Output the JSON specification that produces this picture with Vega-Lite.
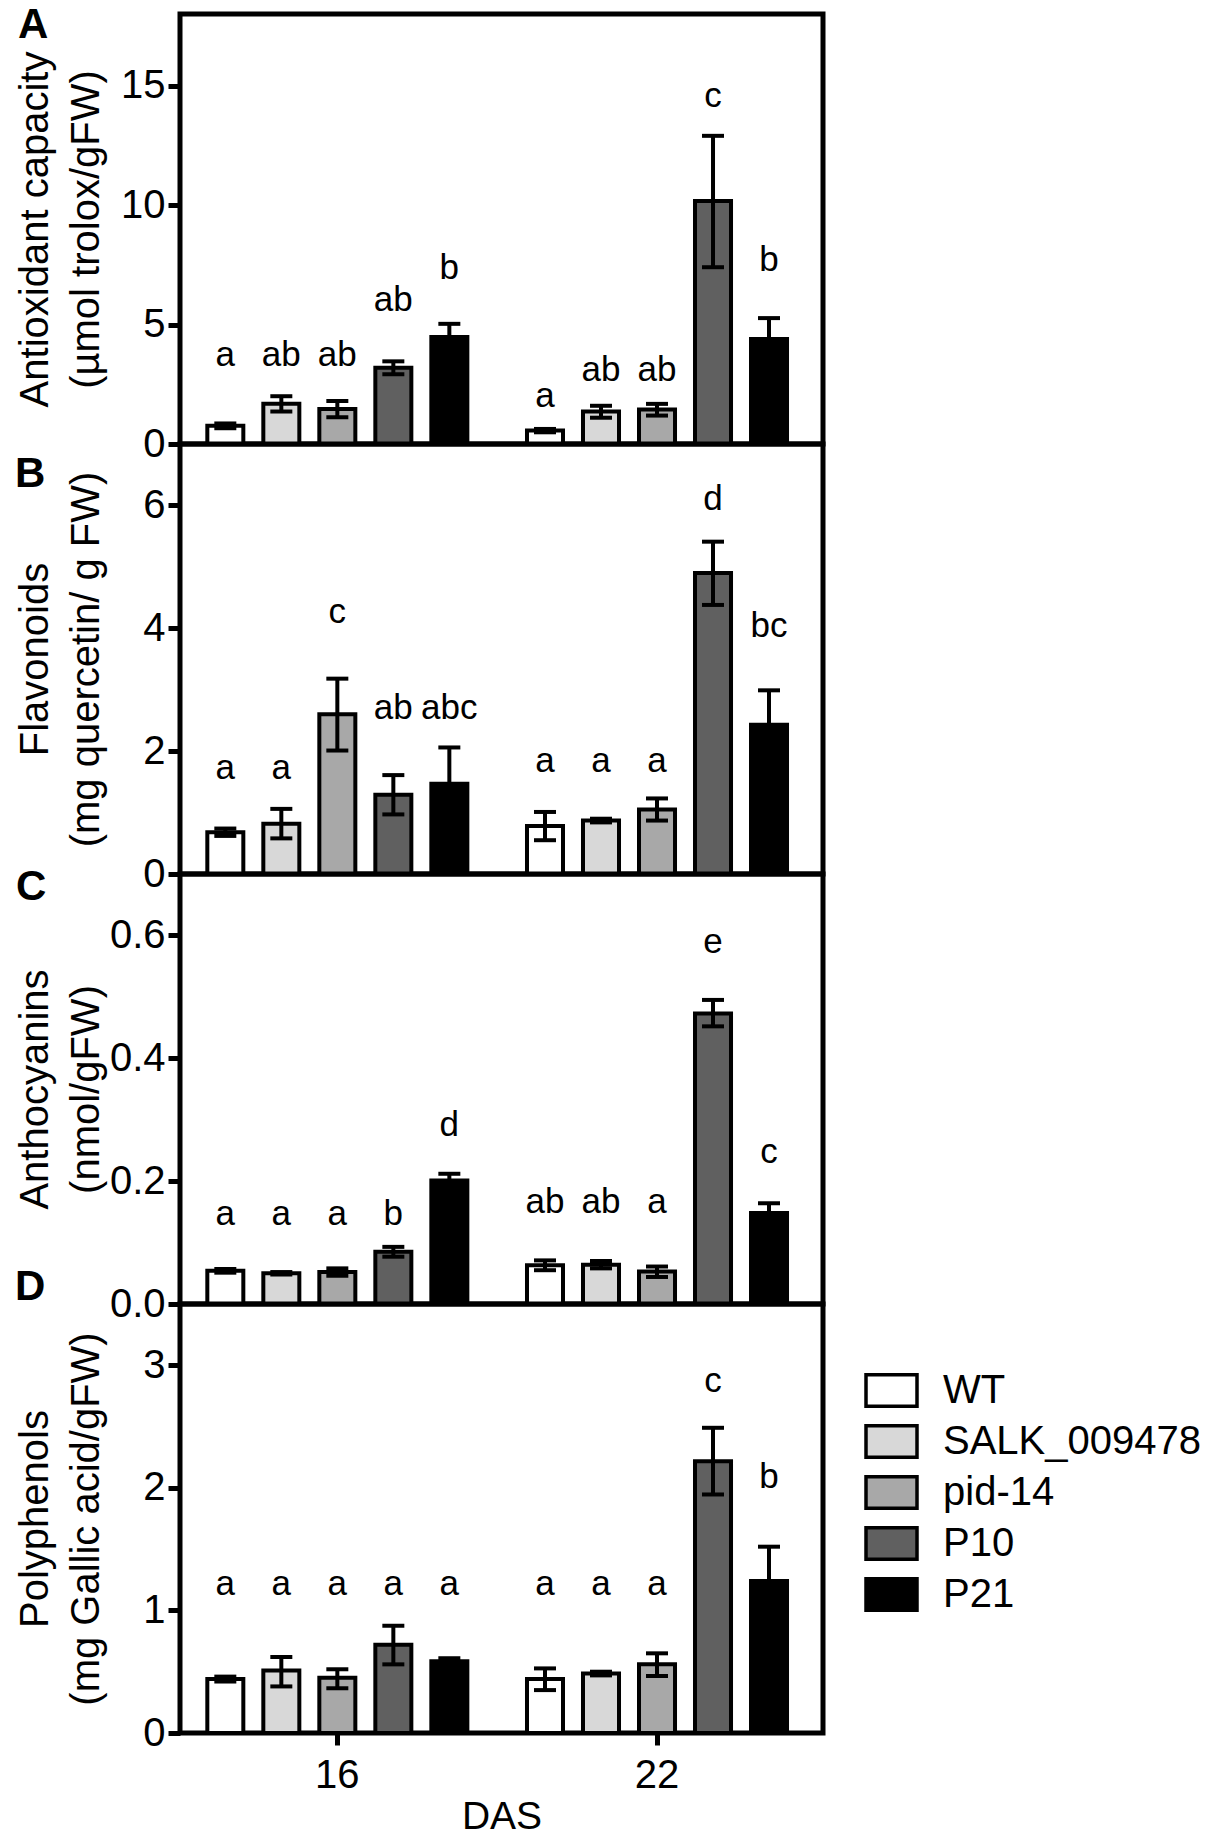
{
  "$schema": "https://vega.github.io/schema/vega-lite/v6.json",
  "background": "white",
  "padding": {"left": 12, "top": 1, "right": 5, "bottom": 5},
  "config": {
    "font": "Liberation Sans",
    "view": {"stroke": "black", "strokeWidth": 5},
    "axis": {
      "labelFont": "Liberation Sans", "titleFont": "Liberation Sans",
      "labelColor": "black", "titleColor": "black", "tickColor": "black",
      "grid": false, "domain": false, "titleFontWeight": "normal",
      "tickSize": 12, "tickWidth": 5, "labelFontSize": 40, "titleFontSize": 40
    },
    "axisY": {
      "labelPadding": 3, "labelBaseline": "middle", "labelFlush": false, "labelOverlap": false,
      "titleAngle": -90, "titleAlign": "center", "titleBaseline": "alphabetic",
      "titleLineHeight": 51, "titleX": -133
    },
    "title": {"font": "Liberation Sans", "fontSize": 42, "fontWeight": "bold", "color": "black",
              "anchor": "start", "frame": "group", "baseline": "alphabetic", "offset": 0, "dx": -162},
    "text": {"font": "Liberation Sans", "fontSize": 35, "color": "black", "baseline": "alphabetic", "align": "center"}
  },
  "datasets": {
    "d": [
      {"p": "A", "das": "16", "g": "WT", "v": 0.76, "lo": 0.66, "hi": 0.86, "lab": "a", "ly": 3.25},
      {"p": "A", "das": "16", "g": "SALK_009478", "v": 1.68, "lo": 1.36, "hi": 2.0, "lab": "ab", "ly": 3.25},
      {"p": "A", "das": "16", "g": "pid-14", "v": 1.47, "lo": 1.12, "hi": 1.8, "lab": "ab", "ly": 3.25},
      {"p": "A", "das": "16", "g": "P10", "v": 3.19, "lo": 2.92, "hi": 3.46, "lab": "ab", "ly": 5.55},
      {"p": "A", "das": "16", "g": "P21", "v": 4.48, "lo": 3.93, "hi": 5.03, "lab": "b", "ly": 6.92},
      {"p": "A", "das": "22", "g": "WT", "v": 0.56, "lo": 0.49, "hi": 0.63, "lab": "a", "ly": 1.54},
      {"p": "A", "das": "22", "g": "SALK_009478", "v": 1.36, "lo": 1.1, "hi": 1.6, "lab": "ab", "ly": 2.62},
      {"p": "A", "das": "22", "g": "pid-14", "v": 1.44, "lo": 1.19, "hi": 1.68, "lab": "ab", "ly": 2.62},
      {"p": "A", "das": "22", "g": "P10", "v": 10.17, "lo": 7.4, "hi": 12.9, "lab": "c", "ly": 14.11},
      {"p": "A", "das": "22", "g": "P21", "v": 4.4, "lo": 3.53, "hi": 5.27, "lab": "b", "ly": 7.23},

      {"p": "B", "das": "16", "g": "WT", "v": 0.68, "lo": 0.62, "hi": 0.74, "lab": "a", "ly": 1.55},
      {"p": "B", "das": "16", "g": "SALK_009478", "v": 0.82, "lo": 0.58, "hi": 1.06, "lab": "a", "ly": 1.55},
      {"p": "B", "das": "16", "g": "pid-14", "v": 2.6, "lo": 2.01, "hi": 3.18, "lab": "c", "ly": 4.09},
      {"p": "B", "das": "16", "g": "P10", "v": 1.29, "lo": 0.97, "hi": 1.61, "lab": "ab", "ly": 2.52},
      {"p": "B", "das": "16", "g": "P21", "v": 1.47, "lo": 0.89, "hi": 2.06, "lab": "abc", "ly": 2.52},
      {"p": "B", "das": "22", "g": "WT", "v": 0.78, "lo": 0.55, "hi": 1.01, "lab": "a", "ly": 1.66},
      {"p": "B", "das": "22", "g": "SALK_009478", "v": 0.87, "lo": 0.84, "hi": 0.9, "lab": "a", "ly": 1.66},
      {"p": "B", "das": "22", "g": "pid-14", "v": 1.05, "lo": 0.87, "hi": 1.23, "lab": "a", "ly": 1.66},
      {"p": "B", "das": "22", "g": "P10", "v": 4.9, "lo": 4.38, "hi": 5.41, "lab": "d", "ly": 5.93},
      {"p": "B", "das": "22", "g": "P21", "v": 2.43, "lo": 1.87, "hi": 2.99, "lab": "bc", "ly": 3.86},

      {"p": "C", "das": "16", "g": "WT", "v": 0.054, "lo": 0.051, "hi": 0.057, "lab": "a", "ly": 0.129},
      {"p": "C", "das": "16", "g": "SALK_009478", "v": 0.05, "lo": 0.048, "hi": 0.052, "lab": "a", "ly": 0.129},
      {"p": "C", "das": "16", "g": "pid-14", "v": 0.052, "lo": 0.046, "hi": 0.058, "lab": "a", "ly": 0.129},
      {"p": "C", "das": "16", "g": "P10", "v": 0.085, "lo": 0.077, "hi": 0.093, "lab": "b", "ly": 0.129},
      {"p": "C", "das": "16", "g": "P21", "v": 0.201, "lo": 0.19, "hi": 0.212, "lab": "d", "ly": 0.273},
      {"p": "C", "das": "22", "g": "WT", "v": 0.063, "lo": 0.055, "hi": 0.071, "lab": "ab", "ly": 0.148},
      {"p": "C", "das": "22", "g": "SALK_009478", "v": 0.064, "lo": 0.058, "hi": 0.07, "lab": "ab", "ly": 0.148},
      {"p": "C", "das": "22", "g": "pid-14", "v": 0.053, "lo": 0.044, "hi": 0.061, "lab": "a", "ly": 0.148},
      {"p": "C", "das": "22", "g": "P10", "v": 0.473, "lo": 0.452, "hi": 0.495, "lab": "e", "ly": 0.572},
      {"p": "C", "das": "22", "g": "P21", "v": 0.148, "lo": 0.132, "hi": 0.164, "lab": "c", "ly": 0.23},

      {"p": "D", "das": "16", "g": "WT", "v": 0.44, "lo": 0.42, "hi": 0.46, "lab": "a", "ly": 1.126},
      {"p": "D", "das": "16", "g": "SALK_009478", "v": 0.51, "lo": 0.38, "hi": 0.62, "lab": "a", "ly": 1.126},
      {"p": "D", "das": "16", "g": "pid-14", "v": 0.45, "lo": 0.365, "hi": 0.52, "lab": "a", "ly": 1.126},
      {"p": "D", "das": "16", "g": "P10", "v": 0.72, "lo": 0.56, "hi": 0.875, "lab": "a", "ly": 1.126},
      {"p": "D", "das": "16", "g": "P21", "v": 0.585, "lo": 0.56, "hi": 0.61, "lab": "a", "ly": 1.126},
      {"p": "D", "das": "22", "g": "WT", "v": 0.44, "lo": 0.35, "hi": 0.527, "lab": "a", "ly": 1.126},
      {"p": "D", "das": "22", "g": "SALK_009478", "v": 0.485, "lo": 0.47, "hi": 0.5, "lab": "a", "ly": 1.126},
      {"p": "D", "das": "22", "g": "pid-14", "v": 0.56, "lo": 0.465, "hi": 0.65, "lab": "a", "ly": 1.126},
      {"p": "D", "das": "22", "g": "P10", "v": 2.217, "lo": 1.946, "hi": 2.49, "lab": "c", "ly": 2.78},
      {"p": "D", "das": "22", "g": "P21", "v": 1.24, "lo": 0.96, "hi": 1.52, "lab": "b", "ly": 1.995}
    ]
  },
  "spacing": 0,
  "bounds": "flush",
  "resolve": {"scale": {"fill": "independent"}},
  "vconcat": [
    {
      "width": 643, "height": 430,
      "title": {"text": "A", "dy": 37},
      "data": {"name": "d"},
      "transform": [{"filter": "datum.p === 'A'"}],
      "encoding": {
        "x": {"field": "das", "type": "nominal", "axis": null,
              "scale": {"domain": ["16", "22"], "paddingInner": 0.124, "paddingOuter": 0.0677, "align": 0.4}},
        "xOffset": {"field": "g", "type": "nominal",
                    "scale": {"domain": ["WT", "SALK_009478", "pid-14", "P10", "P21"], "paddingInner": 0.357, "paddingOuter": 0.1786}}
      },
      "layer": [
        {
          "mark": {"type": "bar", "stroke": "black", "strokeWidth": 4},
          "encoding": {
            "y": {"field": "v", "type": "quantitative",
                  "scale": {"domain": [0, 18], "nice": false},
                  "axis": {"title": ["Antioxidant capacity", "(µmol trolox/gFW)"], "values": [0, 5, 10, 15], "format": "d", "titleY": 215}},
            "fill": {"field": "g", "type": "nominal", "legend": null,
                     "scale": {"domain": ["WT", "SALK_009478", "pid-14", "P10", "P21"], "range": ["#ffffff", "#d8d8d8", "#a8a8a8", "#606060", "#000000"]}}
          }
        },
        {"mark": {"type": "rule", "color": "black", "strokeWidth": 4},
         "encoding": {"y": {"field": "lo", "type": "quantitative"}, "y2": {"field": "hi"}}},
        {"mark": {"type": "tick", "color": "black", "thickness": 4, "size": 22, "opacity": 1},
         "encoding": {"y": {"field": "hi", "type": "quantitative"}}},
        {"mark": {"type": "tick", "color": "black", "thickness": 4, "size": 22, "opacity": 1},
         "encoding": {"y": {"field": "lo", "type": "quantitative"}}},
        {"mark": {"type": "text"},
         "encoding": {"y": {"field": "ly", "type": "quantitative"}, "text": {"field": "lab"}}}
      ]
    },
    {
      "width": 643, "height": 430,
      "title": {"text": "B", "dy": 55.6, "dx": -165},
      "data": {"name": "d"},
      "transform": [{"filter": "datum.p === 'B'"}],
      "encoding": {
        "x": {"field": "das", "type": "nominal", "axis": null,
              "scale": {"domain": ["16", "22"], "paddingInner": 0.124, "paddingOuter": 0.0677, "align": 0.4}},
        "xOffset": {"field": "g", "type": "nominal",
                    "scale": {"domain": ["WT", "SALK_009478", "pid-14", "P10", "P21"], "paddingInner": 0.357, "paddingOuter": 0.1786}}
      },
      "layer": [
        {
          "mark": {"type": "bar", "stroke": "black", "strokeWidth": 4},
          "encoding": {
            "y": {"field": "v", "type": "quantitative",
                  "scale": {"domain": [0, 7], "nice": false},
                  "axis": {"title": ["Flavonoids", "(mg quercetin/ g FW)"], "values": [0, 2, 4, 6], "format": "d", "titleY": 215}},
            "fill": {"field": "g", "type": "nominal", "legend": null,
                     "scale": {"domain": ["WT", "SALK_009478", "pid-14", "P10", "P21"], "range": ["#ffffff", "#d8d8d8", "#a8a8a8", "#606060", "#000000"]}}
          }
        },
        {"mark": {"type": "rule", "color": "black", "strokeWidth": 4},
         "encoding": {"y": {"field": "lo", "type": "quantitative"}, "y2": {"field": "hi"}}},
        {"mark": {"type": "tick", "color": "black", "thickness": 4, "size": 22, "opacity": 1},
         "encoding": {"y": {"field": "hi", "type": "quantitative"}}},
        {"mark": {"type": "tick", "color": "black", "thickness": 4, "size": 22, "opacity": 1},
         "encoding": {"y": {"field": "lo", "type": "quantitative"}}},
        {"mark": {"type": "text"},
         "encoding": {"y": {"field": "ly", "type": "quantitative"}, "text": {"field": "lab"}}}
      ]
    },
    {
      "width": 643, "height": 430,
      "title": {"text": "C", "dy": 39, "dx": -164},
      "data": {"name": "d"},
      "transform": [{"filter": "datum.p === 'C'"}],
      "encoding": {
        "x": {"field": "das", "type": "nominal", "axis": null,
              "scale": {"domain": ["16", "22"], "paddingInner": 0.124, "paddingOuter": 0.0677, "align": 0.4}},
        "xOffset": {"field": "g", "type": "nominal",
                    "scale": {"domain": ["WT", "SALK_009478", "pid-14", "P10", "P21"], "paddingInner": 0.357, "paddingOuter": 0.1786}}
      },
      "layer": [
        {
          "mark": {"type": "bar", "stroke": "black", "strokeWidth": 4},
          "encoding": {
            "y": {"field": "v", "type": "quantitative",
                  "scale": {"domain": [0, 0.7], "nice": false},
                  "axis": {"title": ["Anthocyanins", "(nmol/gFW)"], "values": [0, 0.2, 0.4, 0.6], "format": ".1f", "titleY": 215}},
            "fill": {"field": "g", "type": "nominal", "legend": null,
                     "scale": {"domain": ["WT", "SALK_009478", "pid-14", "P10", "P21"], "range": ["#ffffff", "#d8d8d8", "#a8a8a8", "#606060", "#000000"]}}
          }
        },
        {"mark": {"type": "rule", "color": "black", "strokeWidth": 4},
         "encoding": {"y": {"field": "lo", "type": "quantitative"}, "y2": {"field": "hi"}}},
        {"mark": {"type": "tick", "color": "black", "thickness": 4, "size": 22, "opacity": 1},
         "encoding": {"y": {"field": "hi", "type": "quantitative"}}},
        {"mark": {"type": "tick", "color": "black", "thickness": 4, "size": 22, "opacity": 1},
         "encoding": {"y": {"field": "lo", "type": "quantitative"}}},
        {"mark": {"type": "text"},
         "encoding": {"y": {"field": "ly", "type": "quantitative"}, "text": {"field": "lab"}}}
      ]
    },
    {
      "width": 643, "height": 429,
      "title": {"text": "D", "dy": 9, "dx": -165},
      "data": {"name": "d"},
      "transform": [{"filter": "datum.p === 'D'"}],
      "encoding": {
        "x": {"field": "das", "type": "nominal",
              "axis": {"title": "DAS", "labelAngle": 0, "labelPadding": 10, "labelBaseline": "top", "titlePadding": 2, "titleFontSize": 39},
              "scale": {"domain": ["16", "22"], "paddingInner": 0.124, "paddingOuter": 0.0677, "align": 0.4}},
        "xOffset": {"field": "g", "type": "nominal",
                    "scale": {"domain": ["WT", "SALK_009478", "pid-14", "P10", "P21"], "paddingInner": 0.357, "paddingOuter": 0.1786}}
      },
      "layer": [
        {
          "mark": {"type": "bar", "stroke": "black", "strokeWidth": 4},
          "encoding": {
            "y": {"field": "v", "type": "quantitative",
                  "scale": {"domain": [0, 3.5], "nice": false},
                  "axis": {"title": ["Polyphenols", "(mg Gallic acid/gFW)"], "values": [0, 1, 2, 3], "format": "d", "titleY": 214.5}},
            "fill": {"field": "g", "type": "nominal",
                     "scale": {"domain": ["WT", "SALK_009478", "pid-14", "P10", "P21"], "range": ["#ffffff", "#d8d8d8", "#a8a8a8", "#606060", "#000000"]},
                     "legend": {"orient": "none", "legendX": 684, "legendY": 59, "title": null, "padding": 0,
                                "symbolType": "M-1,-0.62H1V0.62H-1Z", "symbolSize": 2601,
                                "symbolStrokeColor": "black", "symbolStrokeWidth": 3.5, "symbolOpacity": 1,
                                "labelFont": "Liberation Sans", "labelFontSize": 40, "labelColor": "black",
                                "labelOffset": 24, "labelLimit": 400, "rowPadding": 0}}
          }
        },
        {"mark": {"type": "rule", "color": "black", "strokeWidth": 4},
         "encoding": {"y": {"field": "lo", "type": "quantitative"}, "y2": {"field": "hi"}}},
        {"mark": {"type": "tick", "color": "black", "thickness": 4, "size": 22, "opacity": 1},
         "encoding": {"y": {"field": "hi", "type": "quantitative"}}},
        {"mark": {"type": "tick", "color": "black", "thickness": 4, "size": 22, "opacity": 1},
         "encoding": {"y": {"field": "lo", "type": "quantitative"}}},
        {"mark": {"type": "text"},
         "encoding": {"y": {"field": "ly", "type": "quantitative"}, "text": {"field": "lab"}}}
      ]
    }
  ]
}
